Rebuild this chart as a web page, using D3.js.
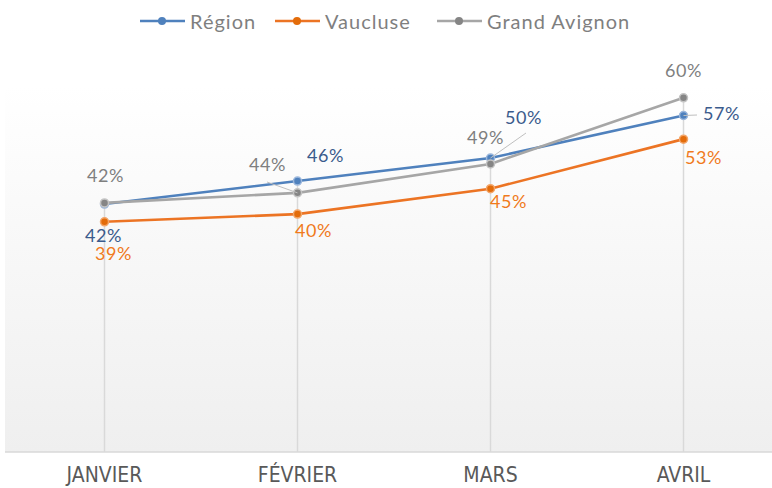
<!DOCTYPE html>
<html>
<head>
<meta charset="utf-8">
<script src="https://cdn.jsdelivr.net/npm/d3@7"></script>
<style>
  body { margin: 0; background: #fff; }
  svg text { font-family: "Lato", "DejaVu Sans", sans-serif; }
</style>
</head>
<body>
<script>
// chart data
var months = ["JANVIER", "FÉVRIER", "MARS", "AVRIL"];
var region = [42, 45.9, 49.8, 57];
var vaucluse = [39, 40.3, 44.6, 53];
var grandAvignon = [42.2, 43.9, 48.8, 60];
var seriesNames = ["Région", "Vaucluse", "Grand Avignon"];

var width = 772, height = 488;
var plotTop = 86, plotBottom = 452;

var svg = d3.select("body").append("svg")
    .attr("width", width)
    .attr("height", height);

var defs = svg.append("defs");
var grad = defs.append("linearGradient")
    .attr("id", "bg").attr("x1", 0).attr("y1", 0).attr("x2", 0).attr("y2", 1);
grad.append("stop").attr("offset", "0%").attr("stop-color", "#ffffff");
grad.append("stop").attr("offset", "100%").attr("stop-color", "#efefef");

var x = d3.scaleBand().domain(months).range([8, 780]);
var y = d3.scaleLinear().domain([0, 62]).range([plotBottom, plotTop]);

// plot area background
svg.append("rect")
    .attr("x", 5).attr("y", plotTop)
    .attr("width", width - 5).attr("height", plotBottom - plotTop)
    .attr("fill", "url(#bg)");

var series = [
    {name: seriesNames[0], values: region, line: "#4f81bd", dot: "#4f81bd", halo: "#9bb7dc", label: "#3b5b8c"},
    {name: seriesNames[1], values: vaucluse, line: "#ec7424", dot: "#e36c0a", halo: "#f3a66a", label: "#f07a1c"},
    {name: seriesNames[2], values: grandAvignon, line: "#a6a6a6", dot: "#858585", halo: "#c4c4c4", label: "#7f7f7f"}
];

function cx(i) { return x(months[i]) + x.bandwidth() / 2; }

// drop lines from the highest point down to the axis
months.forEach(function(m, i) {
    var hi = d3.max(series, function(s) { return s.values[i]; });
    svg.append("line")
        .attr("x1", cx(i)).attr("x2", cx(i))
        .attr("y1", y(hi)).attr("y2", plotBottom)
        .attr("stroke", "#d9d9d9").attr("stroke-width", 1.5);
});

// bottom axis
var xAxis = svg.append("g")
    .attr("transform", "translate(0," + plotBottom + ")")
    .call(d3.axisBottom(x).tickSize(0).tickPadding(15));
xAxis.select(".domain").attr("stroke", "#d9d9d9").attr("stroke-width", 1.5)
    .attr("d", "M5,0H" + width);
xAxis.selectAll("text")
    .style("font-family", "'Liberation Sans Narrow', 'DejaVu Sans Condensed', sans-serif")
    .attr("font-size", 21)
    .attr("fill", "#595959");

var line = d3.line()
    .x(function(d, i) { return cx(i); })
    .y(function(d) { return y(d); });

series.forEach(function(s) {
    svg.append("path")
        .datum(s.values)
        .attr("d", line)
        .attr("fill", "none")
        .attr("stroke", s.line)
        .attr("stroke-width", 2.6);
});

series.forEach(function(s) {
    svg.selectAll(null)
        .data(s.values)
        .enter().append("circle")
        .attr("cx", function(d, i) { return cx(i); })
        .attr("cy", function(d) { return y(d); })
        .attr("r", 4)
        .attr("fill", s.dot)
        .attr("stroke", s.halo)
        .attr("stroke-width", 1.5);
});

// label offsets from each point (layout only)
var labelOffsets = [
    [[-1, 31], [ 28, -26], [ 33, -41], [ 38, -3]],
    [[ 9, 31], [ 16,  16], [ 18,  12], [ 20, 18]],
    [[ 1, -28], [-30, -29], [ -5, -27], [ 0, -28]]
];

// leader lines
var leaders = [
    {s: 2, i: 1, x1: 267, y1: 182},
    {s: 0, i: 2, x1: 526, y1: 133},
    {s: 0, i: 3, x1: 697, y1: 115}
];
leaders.forEach(function(l) {
    svg.append("line")
        .attr("x1", l.x1).attr("y1", l.y1)
        .attr("x2", cx(l.i)).attr("y2", y(series[l.s].values[l.i]))
        .attr("stroke", "#bfbfbf").attr("stroke-width", 1);
});

var fmt = function(v) { return Math.round(v) + "%"; };
series.forEach(function(s, k) {
    svg.selectAll(null)
        .data(s.values)
        .enter().append("text")
        .attr("x", function(d, i) { return cx(i) + labelOffsets[k][i][0]; })
        .attr("y", function(d, i) { return y(d) + labelOffsets[k][i][1]; })
        .attr("text-anchor", "middle")
        .attr("dominant-baseline", "central")
        .attr("font-size", 18)
        .attr("letter-spacing", 0.5)
        .attr("fill", s.label)
        .text(fmt);
});

// legend
var legendX = [140, 275, 437];
var legend = svg.append("g");
series.forEach(function(s, k) {
    var g = legend.append("g").attr("transform", "translate(" + legendX[k] + ",21)");
    g.append("line").attr("x1", 0).attr("x2", 45)
        .attr("stroke", s.line).attr("stroke-width", 2.6);
    g.append("circle").attr("cx", 22).attr("r", 4).attr("fill", s.dot);
    g.append("text").attr("x", 50).attr("dominant-baseline", "central")
        .attr("font-size", 20).attr("letter-spacing", 1)
        .attr("fill", "#7f7f7f").text(s.name);
});
</script>
</body>
</html>
